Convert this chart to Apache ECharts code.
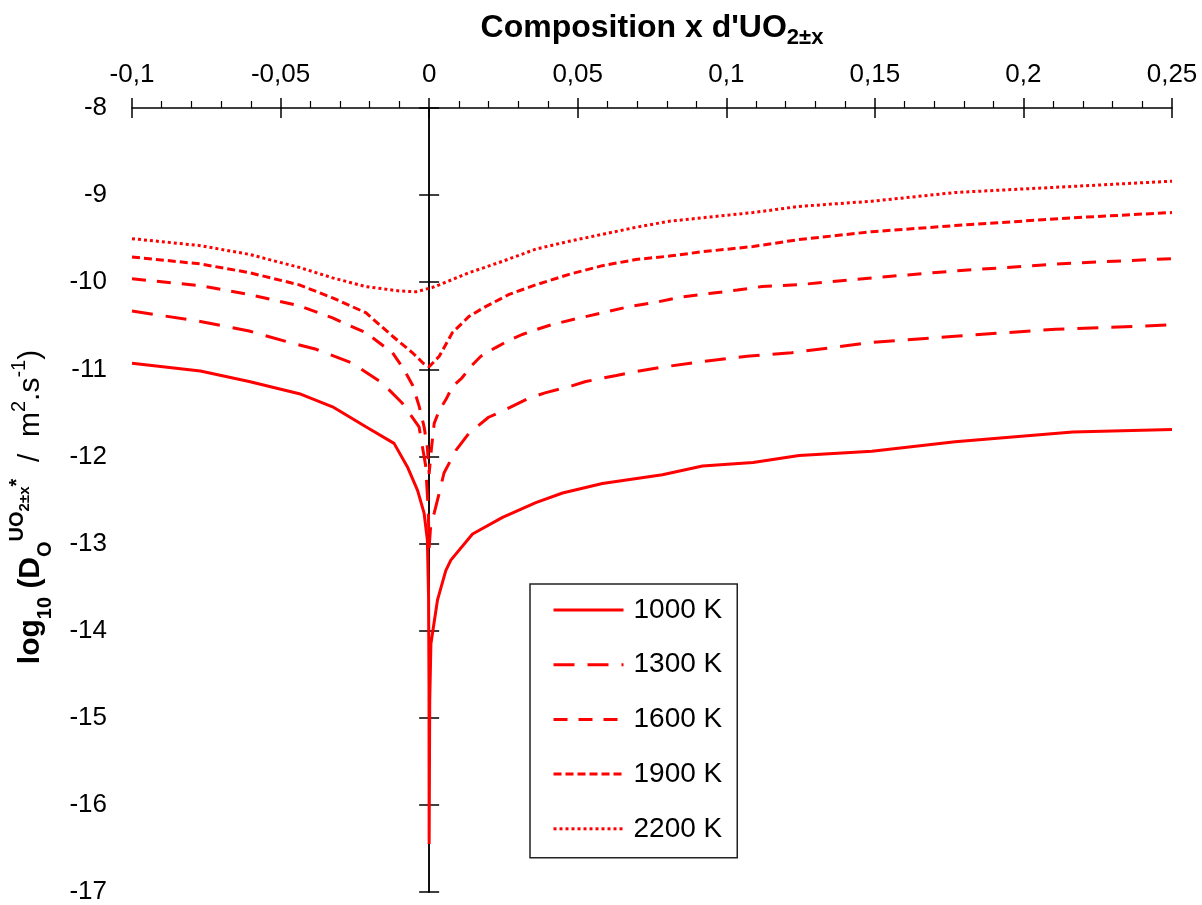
<!DOCTYPE html>
<html><head><meta charset="utf-8">
<script src="https://cdn.jsdelivr.net/npm/echarts@6/dist/echarts.min.js"></script>
<style>html,body{margin:0;padding:0;background:#fff;} #c{width:1202px;height:905px;}</style>
</head><body><div id="c"></div>
<script>
const seriesNames = ['1000 K', '1300 K', '1600 K', '1900 K', '2200 K'];
const xTickLabels = ['-0,1', '-0,05', '0', '0,05', '0,1', '0,15', '0,2', '0,25'];
const yTickLabels = ['-17', '-16', '-15', '-14', '-13', '-12', '-11', '-10', '-9', '-8'];

const T1000 = [[-0.1,-10.93],[-0.077,-11.02],[-0.0606,-11.14],[-0.0437,-11.28],[-0.0325,-11.43],[-0.0213,-11.66],[-0.0118,-11.85],[-0.0073,-12.12],[-0.0039,-12.39],[-0.0017,-12.65],[-0.0006,-12.96],[-0.0002,-13.6],[-0.00005,-14.6],[0,-16.45],[0.0002,-14.8],[0.0006,-14.15],[0.0028,-13.65],[0.0056,-13.31],[0.0073,-13.19],[0.0146,-12.89],[0.0247,-12.70],[0.0359,-12.53],[0.0449,-12.42],[0.0583,-12.31],[0.0785,-12.21],[0.092,-12.11],[0.109,-12.07],[0.1245,-11.99],[0.149,-11.94],[0.177,-11.83],[0.2166,-11.72],[0.25,-11.69]];
const T1300 = [[-0.1,-10.33],[-0.077,-10.45],[-0.0606,-10.56],[-0.0482,-10.68],[-0.038,-10.77],[-0.0258,-10.93],[-0.0157,-11.16],[-0.009,-11.39],[-0.0034,-11.66],[-0.0012,-12.1],[-0.0003,-12.6],[0,-13.05],[0.0005,-12.8],[0.0017,-12.65],[0.0034,-12.42],[0.005,-12.19],[0.009,-11.93],[0.0135,-11.73],[0.02,-11.55],[0.0252,-11.47],[0.0336,-11.33],[0.039,-11.27],[0.048,-11.19],[0.0527,-11.14],[0.063,-11.07],[0.0673,-11.04],[0.0774,-10.98],[0.092,-10.91],[0.107,-10.85],[0.122,-10.81],[0.149,-10.69],[0.177,-10.62],[0.2108,-10.54],[0.25,-10.49]];
const T1600 = [[-0.1,-9.96],[-0.077,-10.04],[-0.0606,-10.14],[-0.0437,-10.27],[-0.0325,-10.41],[-0.0213,-10.58],[-0.0123,-10.81],[-0.0085,-11.0],[-0.0056,-11.18],[-0.0034,-11.42],[-0.0017,-11.66],[-0.0006,-11.9],[0,-12.2],[0.0008,-11.9],[0.0017,-11.62],[0.0034,-11.47],[0.0056,-11.35],[0.0078,-11.20],[0.011,-11.10],[0.0145,-10.95],[0.0174,-10.85],[0.0224,-10.75],[0.0262,-10.68],[0.0313,-10.60],[0.0346,-10.56],[0.041,-10.49],[0.0494,-10.42],[0.0585,-10.35],[0.0673,-10.28],[0.0763,-10.23],[0.085,-10.17],[0.0942,-10.13],[0.1037,-10.09],[0.112,-10.05],[0.124,-10.03],[0.149,-9.95],[0.177,-9.87],[0.2166,-9.78],[0.25,-9.73]];
const T1900 = [[-0.1,-9.71],[-0.077,-9.79],[-0.0606,-9.89],[-0.0437,-10.03],[-0.0325,-10.18],[-0.0213,-10.35],[-0.0123,-10.62],[-0.0056,-10.81],[-0.002,-10.93],[0,-10.97],[0.0034,-10.85],[0.0078,-10.58],[0.0135,-10.39],[0.019,-10.28],[0.0269,-10.14],[0.0359,-10.03],[0.0471,-9.91],[0.0583,-9.81],[0.0695,-9.74],[0.0808,-9.70],[0.092,-9.65],[0.109,-9.59],[0.1245,-9.51],[0.149,-9.42],[0.177,-9.35],[0.2166,-9.26],[0.25,-9.20]];
const T2200 = [[-0.1,-9.50],[-0.077,-9.58],[-0.0606,-9.68],[-0.0437,-9.83],[-0.0325,-9.95],[-0.0213,-10.05],[-0.0101,-10.10],[-0.0045,-10.11],[0.0011,-10.06],[0.0034,-10.03],[0.0135,-9.89],[0.0247,-9.76],[0.0359,-9.62],[0.0471,-9.53],[0.0583,-9.45],[0.0695,-9.37],[0.0808,-9.30],[0.092,-9.26],[0.109,-9.20],[0.1245,-9.13],[0.149,-9.07],[0.177,-8.97],[0.2166,-8.90],[0.25,-8.84]];

const seriesData = [T1000, T1300, T1600, T1900, T2200];
const dashTypes = ['solid', [21, 13], [14, 11], [8, 4], [3, 3]];

const FONT = '"Liberation Sans", Arial, sans-serif';
const chart = echarts.init(document.getElementById('c'), null, {renderer: 'canvas'});

const yBase = {
  type: 'value', min: -17, max: -8, interval: 1,
  splitLine: {show: false}
};
const xBase = {
  type: 'value', position: 'top', min: -0.1, max: 0.25, interval: 0.05,
  splitLine: {show: false}
};

const option = {
  backgroundColor: '#fff',
  animation: false,
  grid: {left: 132, right: 30, top: 108, bottom: 11, containLabel: false},
  xAxis: [
    Object.assign({}, xBase, {
      axisLine: {show: true, onZero: false, lineStyle: {color: '#000', width: 1.5}},
      axisTick: {show: true, inside: false, length: 10, lineStyle: {color: '#000', width: 1.5}},
      minorTick: {show: true, splitNumber: 5, length: 7, lineStyle: {color: '#000', width: 1.2}},
      axisLabel: {
        show: true, margin: 20, color: '#000', fontSize: 26, fontFamily: FONT,
        formatter: function (v) { return xTickLabels[Math.round((v + 0.1) / 0.05)]; }
      }
    }),
    Object.assign({}, xBase, {
      axisLine: {show: false, onZero: false},
      axisTick: {show: true, inside: true, length: 10, lineStyle: {color: '#000', width: 1.5}},
      axisLabel: {show: false}
    })
  ],
  yAxis: [
    Object.assign({}, yBase, {
      position: 'left',
      axisLine: {show: false, onZero: false},
      axisTick: {show: false},
      axisLabel: {
        show: true, margin: 25, color: '#000', fontSize: 26, fontFamily: FONT,
        formatter: function (v) { return yTickLabels[Math.round(v + 17)]; }
      }
    }),
    Object.assign({}, yBase, {
      position: 'left',
      axisLine: {show: true, onZero: true, onZeroAxisIndex: 0, lineStyle: {color: '#000', width: 1.5}},
      axisTick: {show: true, inside: false, length: 10, lineStyle: {color: '#000', width: 1.5}},
      axisLabel: {show: false}
    }),
    Object.assign({}, yBase, {
      position: 'left',
      axisLine: {show: true, onZero: true, onZeroAxisIndex: 0, lineStyle: {color: '#000', width: 1.5}},
      axisTick: {show: true, inside: true, length: 10, lineStyle: {color: '#000', width: 1.5}},
      axisLabel: {show: false}
    })
  ],
  legend: {
    orient: 'vertical', left: 530, top: 584,
    itemWidth: 70, itemHeight: 20, itemGap: 26.7,
    padding: [12, 15, 15, 22],
    borderColor: '#222', borderWidth: 1.5, borderRadius: 0,
    backgroundColor: '#fff',
    selectedMode: false,
    textStyle: {fontSize: 28, color: '#000', fontFamily: FONT, padding: [0, 0, 0, 5]},
    itemStyle: {opacity: 0},
    lineStyle: {width: 3},
    data: seriesNames
  },
  series: seriesNames.map(function (name, i) {
    return {
      name: name, type: 'line', xAxisIndex: 0, yAxisIndex: 0,
      data: seriesData[i],
      symbol: 'none', showSymbol: false, smooth: false,
      color: '#ff0000',
      lineStyle: {color: '#ff0000', width: 3, type: dashTypes[i]},
      z: 5
    };
  }),
  graphic: [
    {
      type: 'text', x: 652, y: 28, z: 10,
      style: {
        text: "{t|Composition x d'UO}{s|2±x}",
        align: 'center', verticalAlign: 'middle', textAlign: 'center', textVerticalAlign: 'middle',
        fill: '#000',
        rich: {
          t: {fontSize: 32, fontWeight: 'bold', fontFamily: FONT, lineHeight: 42, color: '#000'},
          s: {fontSize: 22, fontWeight: 'bold', fontFamily: FONT, lineHeight: 22, verticalAlign: 'bottom', color: '#000'}
        }
      }
    },
    {
      type: 'text', x: 31, y: 507, rotation: Math.PI / 2, z: 10,
      style: {
        text: '{b|log}{bs|10}{b| (D}{bs|O}{sp|UO}{sps|2±x}{sp|*}{n|  /  m}{ns|2}{n|.s}{ns|-1}{n|)}',
        align: 'center', verticalAlign: 'middle', textAlign: 'center', textVerticalAlign: 'middle',
        fill: '#000',
        rich: {
          b: {fontSize: 30, fontWeight: 'bold', fontFamily: FONT, lineHeight: 48, color: '#000'},
          bs: {fontSize: 20, fontWeight: 'bold', fontFamily: FONT, lineHeight: 20, verticalAlign: 'bottom', color: '#000'},
          sp: {fontSize: 20, fontWeight: 'bold', fontFamily: FONT, lineHeight: 20, verticalAlign: 'top', color: '#000'},
          sps: {fontSize: 15, fontWeight: 'bold', fontFamily: FONT, lineHeight: 15, verticalAlign: 'top', padding: [10, 0, 0, 0], color: '#000'},
          n: {fontSize: 30, fontFamily: FONT, lineHeight: 48, color: '#000'},
          ns: {fontSize: 20, fontFamily: FONT, lineHeight: 20, verticalAlign: 'top', padding: [2, 0, 0, 0], color: '#000'}
        }
      }
    }
  ]
};
chart.setOption(option);
</script>
</body></html>
